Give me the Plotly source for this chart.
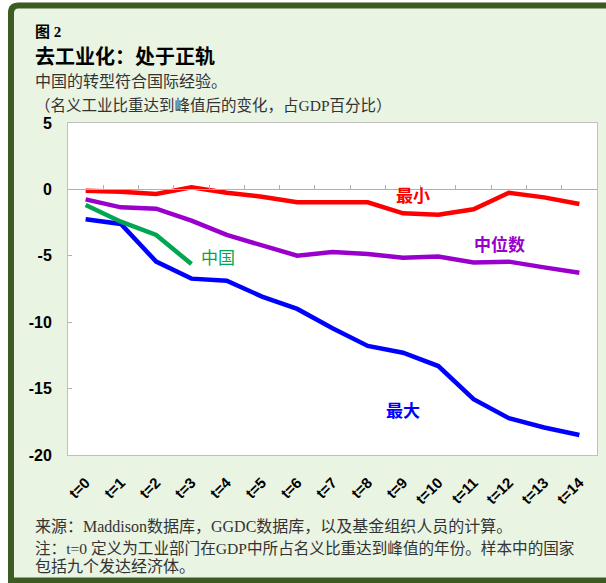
import plotly.graph_objects as go

# ---------------- data ----------------
categories = ["t=0", "t=1", "t=2", "t=3", "t=4", "t=5", "t=6", "t=7",
              "t=8", "t=9", "t=10", "t=11", "t=12", "t=13", "t=14"]
min_vals = [-0.1, -0.17, -0.35, 0.16, -0.25, -0.55, -0.97, -0.97, -0.97,
            -1.8, -1.9, -1.5, -0.25, -0.6, -1.1]
median_vals = [-0.75, -1.35, -1.45, -2.35, -3.43, -4.19, -4.99, -4.71, -4.86,
               -5.14, -5.06, -5.51, -5.44, -5.87, -6.27]
china_vals = [-1.17, -2.43, -3.43, -5.62]
max_vals = [-2.25, -2.6, -5.44, -6.72, -6.87, -8.07, -9.0, -10.46, -11.79,
            -12.3, -13.3, -15.8, -17.23, -17.93, -18.49]
y_ticks = [5, 0, -5, -10, -15, -20]
y_tick_labels = ["5", "0", "-5", "-10", "-15", "-20"]

series_names = ["最大", "最小", "中位数", "中国"]

# ---------------- geometry helpers ----------------
W, H = 606, 583
L, R, T, B = 68, 9, 123, 128
PW, PH = W - L - R, H - T - B


def fx(px):
    return (px - L) / PW


def fy(py):
    return (H - B - py) / PH


BG = "#e9f4e3"
DARK = "#3d5b25"
CJK = "Noto Sans CJK SC"
SERIF = "Liberation Serif, Noto Sans CJK SC"
SANS = "Liberation Sans, Arial, sans-serif"

colors = {"最大": "#0000ff", "最小": "#ff0000", "中位数": "#9900cc", "中国": "#00a651"}
values = {"最大": max_vals, "最小": min_vals, "中位数": median_vals, "中国": china_vals}

fig = go.Figure()
for name in series_names:
    vals = values[name]
    fig.add_trace(go.Scatter(
        x=categories[:len(vals)], y=vals, mode="lines", name=name,
        line=dict(color=colors[name], width=4.5), showlegend=False,
        hoverinfo="skip"))

# helper trace to register the overlay axis that draws the zero-line ticks
fig.add_trace(go.Scatter(x=[None], y=[None], xaxis="x2", yaxis="y",
                         showlegend=False, hoverinfo="skip"))

fig.update_layout(
    width=W, height=H,
    margin=dict(l=L, r=R, t=T, b=B, autoexpand=False),
    paper_bgcolor=BG, plot_bgcolor="white",
    xaxis=dict(
        type="category", categoryorder="array", categoryarray=categories,
        range=[-0.5, 14.5], showgrid=False, zeroline=False,
        showline=True, mirror=True, linecolor="#c0c0c0", linewidth=1,
        ticks="", tickangle=-45, ticklabelstandoff=12,
        tickfont=dict(family=SANS, size=15, color="black", weight="bold"),
    ),
    xaxis2=dict(
        overlaying="x", anchor="free", position=fy(T + 5 * PH / 25), side="top",
        range=[-0.5, 14.5], showgrid=False, zeroline=False,
        showline=True, linecolor="#b0b0b0", linewidth=1,
        ticks="outside", ticklen=4, tickcolor="#b0b0b0", tickwidth=1,
        tickvals=[i + 0.5 for i in range(14)], showticklabels=False,
    ),
    yaxis=dict(
        range=[-20, 5], tickvals=y_ticks, ticktext=y_tick_labels,
        showgrid=False, zeroline=False,
        showline=True, mirror=True, linecolor="#c0c0c0", linewidth=1,
        ticks="inside", ticklen=4, tickcolor="#b0b0b0",
        ticklabelstandoff=12,
        tickfont=dict(family=SANS, size=16, color="black", weight="bold"),
    ),
)

# series labels
labels = [
    ("最小", 9.29, -0.35, "bold"),
    ("中位数", 11.73, -4.04, "bold"),
    ("中国", 3.75, -5.02, "normal"),
    ("最大", 9.01, -16.6, "bold"),
]
for name, xv, yv, wt in labels:
    fig.add_annotation(x=xv, y=yv, xref="x", yref="y", text=name, showarrow=False,
                       font=dict(family=CJK, size=17, color=colors[name], weight=wt),
                       xanchor="center", yanchor="middle")

# header and footer texts
texts = [
    ("图 2", 32.5, 15, "bold", "black", SERIF),
    ("去工业化：处于正轨", 56, 20, "bold", "black", CJK),
    ("中国的转型符合国际经验。", 80, 16, "normal", "#333333", CJK),
    ("（名义工业比重达到峰值后的变化，占GDP百分比）", 105, 15.5, "normal", "#333333", SERIF),
    ("来源：Maddison数据库，GGDC数据库，以及基金组织人员的计算。", 526, 16, "normal", "#333333", SERIF),
    ("注：t=0 定义为工业部门在GDP中所占名义比重达到峰值的年份。样本中的国家", 548, 15.6, "normal", "#333333", SERIF),
    ("包括九个发达经济体。", 566, 16, "normal", "#333333", SERIF),
]
for txt, py, size, wt, col, fam in texts:
    fig.add_annotation(x=fx(33), y=fy(py), xref="paper", yref="paper", text=txt,
                       showarrow=False, xanchor="left", yanchor="middle",
                       font=dict(family=fam, size=size, color=col, weight=wt))

# frame: white outside strips, dark green border with rounded top-left corner
def P(px, py):
    return f"{fx(px)},{fy(py)}"

fig.add_shape(type="rect", xref="paper", yref="paper",
              x0=fx(-5), x1=fx(8), y0=fy(-5), y1=fy(H + 5),
              fillcolor="white", line=dict(width=0), layer="above")
fig.add_shape(type="rect", xref="paper", yref="paper",
              x0=fx(-5), x1=fx(W + 10), y0=fy(-5), y1=fy(2.5),
              fillcolor="white", line=dict(width=0), layer="above")
fig.add_shape(type="path", xref="paper", yref="paper",
              path=f"M {P(7,1)} L {P(20,1)} L {P(18,2.5)} Q {P(8,2.5)} {P(8,12.5)} L {P(7,14)} Z",
              fillcolor="white", line=dict(width=0), layer="above")
fig.add_shape(type="path", xref="paper", yref="paper",
              path=f"M {P(W + 10,580.5)} L {P(11,580.5)} L {P(11,13)} Q {P(11,5.5)} {P(18.5,5.5)} L {P(W + 10,5.5)}",
              line=dict(color=DARK, width=6), layer="above")

fig.write_html("out.html", config={"displayModeBar": False},
               post_script="document.body.style.margin='0';document.body.style.overflow='hidden';")
